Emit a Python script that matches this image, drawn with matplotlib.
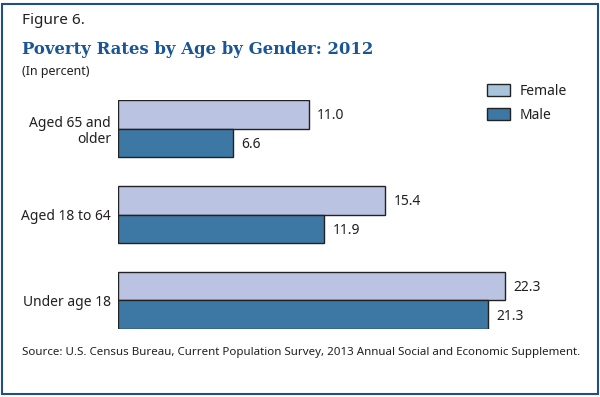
import matplotlib
matplotlib.use("Agg")
import matplotlib.pyplot as plt
from matplotlib.patches import Patch, Rectangle

# --------------
# Data
# --------------
groups = ["Aged 65 and\nolder", "Aged 18 to 64", "Under age 18"]
female = [11.0, 15.4, 22.3]
male = [6.6, 11.9, 21.3]

# --------------
# Style
# --------------
plt.rcParams["font.family"] = ["Noto Sans", "DejaVu Sans"]
text_col = "#231f20"
female_col = "#bac4e2"
male_col = "#3d78a5"
legend_female_col = "#a8c4dc"
frame_col = "#1f4f86"
title_col = "#1a5596"

W, H = 600, 397
fig = plt.figure(figsize=(W / 100, H / 100), dpi=100)

# axes placed in pixel terms of the reference
left, right, top, bottom = 118, 560, 100, 329
ax = fig.add_axes([left / W, 1 - bottom / H, (right - left) / W, (bottom - top) / H])

h = 0.334
ypos = list(range(len(groups)))
ax.barh([y - h / 2 for y in ypos], female, height=h, color=female_col,
        edgecolor="#222222", linewidth=1.0)
ax.barh([y + h / 2 for y in ypos], male, height=h, color=male_col,
        edgecolor="#222222", linewidth=1.0)

for y, v in zip(ypos, female):
    ax.annotate(f"{v:.1f}", (v, y - h / 2), xytext=(6, -1), textcoords="offset points",
                va="center", ha="left", fontsize=10, color=text_col)
for y, v in zip(ypos, male):
    ax.annotate(f"{v:.1f}", (v, y + h / 2), xytext=(6, -1), textcoords="offset points",
                va="center", ha="left", fontsize=10, color=text_col)

ax.set_xlim(0, (right - left) / 17.35)
ax.set_ylim(2 + h, -h)
ax.set_yticks(ypos)
ax.set_yticklabels(groups, fontsize=10, color=text_col, linespacing=1.1)
ax.tick_params(axis="y", length=0, pad=5)
ax.set_xticks([])
for s in ax.spines.values():
    s.set_visible(False)

# --------------
# Titles and source
# --------------
fig.text(22 / W, 1 - 21 / H, "Figure 6.", fontsize=11, color=text_col, va="center")
fig.text(22 / W, 1 - 49 / H, "Poverty Rates by Age by Gender: 2012", fontsize=11.9,
         family="DejaVu Serif", weight="bold", color=title_col, va="center")
fig.text(22 / W, 1 - 72 / H, "(In percent)", fontsize=9, color=text_col, va="center")
fig.text(22 / W, 1 - 352 / H,
         "Source: U.S. Census Bureau, Current Population Survey, 2013 Annual Social and Economic Supplement.",
         fontsize=8.3, color=text_col, va="center")

# --------------
# Legend
# --------------
handles = [Patch(facecolor=legend_female_col, edgecolor="#222222", linewidth=1.0, label="Female"),
           Patch(facecolor=male_col, edgecolor="#222222", linewidth=1.0, label="Male")]
fig.legend(handles=handles, loc="upper left", bbox_to_anchor=(476 / W, 1 - 73 / H),
           frameon=False, fontsize=10, handlelength=1.65, handleheight=0.95,
           handletextpad=0.7, labelspacing=0.65, borderpad=0.3, labelcolor=text_col)

# --------------
# Frame
# --------------
fig.add_artist(Rectangle((1.5 / W, 3.5 / H), 596 / W, 390 / H, transform=fig.transFigure,
                         fill=False, edgecolor=frame_col, linewidth=1.5))

fig.savefig("out.png", dpi=100)
